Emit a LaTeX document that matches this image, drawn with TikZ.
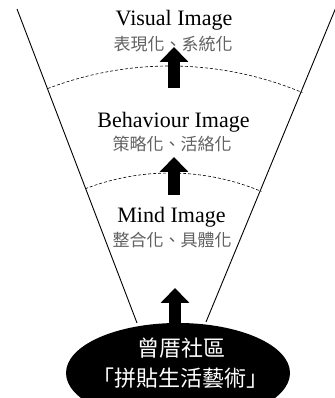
\documentclass[tikz,border=0pt]{standalone}
\usepackage{fontspec}
\setmainfont{Liberation Serif}
\newfontfamily\cjk{Noto Sans CJK TC}
\usetikzlibrary{arrows.meta,shapes.geometric}
\begin{document}
\begin{tikzpicture}[x=1pt,y=1pt,
  funnel/.style={line width=0.9pt},
  level/.style={dashed,line width=0.6pt,dash pattern=on 3pt off 2pt},
  title/.style={anchor=base,inner sep=0pt,font=\fontsize{22}{24}\selectfont},
  sub/.style={inner sep=0pt,text=black!62,font=\cjk\fontsize{17}{19}\selectfont},
  bigarrow/.style={line width=12pt,-{Triangle[length=15pt,width=28pt]}},
  basenode/.style={ellipse,fill=black,minimum width=224pt,minimum height=100pt,inner sep=0pt},
  basetext/.style={inner sep=0pt,text=white,font=\cjk\fontsize{22}{24}\selectfont}]
\useasboundingbox (0,0) rectangle (334,398);
% funnel sides
\coordinate (lt) at (17,389);
\coordinate (lb) at (137,75);
\coordinate (rt) at (335.3,389);
\coordinate (rb) at (206,76);
\draw[funnel] (lt) -- (lb);
\draw[funnel] (rt) -- (rb);
% dashed level boundaries (arcs around the funnel apex)
\coordinate (apex) at (170,-11);
\draw[level] (apex) ++(110.9:343) arc[start angle=110.9,end angle=67.3,radius=343];
\draw[level] (apex) ++(111.1:236) arc[start angle=111.1,end angle=67.2,radius=236];
% base ellipse
\node[basenode] (root) at (178,25) {};
\node[basetext] (r1) at (181,50) {曾厝社區};
\node[basetext] (r2) at (180,20) {「拼貼生活藝術」};
% texts
\node[title] (vis) at (174,372) {Visual Image};
\node[sub] (vissub) at (173,353.5) {表現化、系統化};
\node[title] (beh) at (173.5,270) {Behaviour Image};
\node[sub] (behsub) at (172,254.5) {策略化、活絡化};
\node[title] (mind) at (171.5,175) {Mind Image};
\node[sub] (mindsub) at (172,158) {整合化、具體化};
% arrows
\coordinate (a1s) at (174,310);
\coordinate (a1e) at (174,351);
\coordinate (a2s) at (174,203);
\coordinate (a2e) at (174,241);
\coordinate (a3s) at (175,66);
\coordinate (a3e) at (175,110);
\draw[bigarrow] (a1s) -- (a1e);
\draw[bigarrow] (a2s) -- (a2e);
\draw[bigarrow] (a3s) -- (a3e);
\end{tikzpicture}
\end{document}
